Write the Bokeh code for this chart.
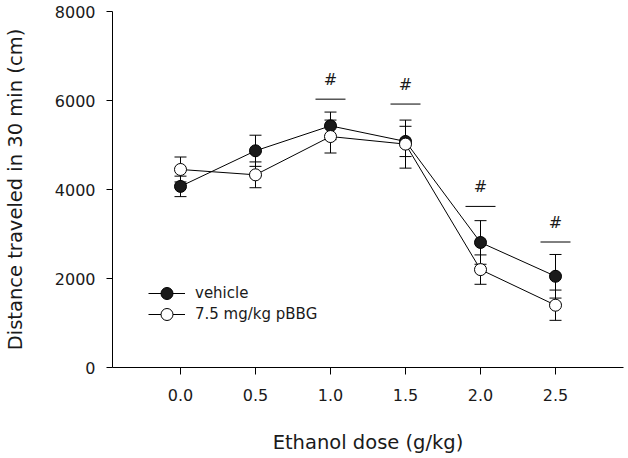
from bokeh.plotting import figure
from bokeh.models import (Whisker, ColumnDataSource, Legend, LegendItem, FixedTicker,
                          NumeralTickFormatter, TeeHead, Range1d)
from bokeh.embed import file_html
from bokeh.resources import INLINE
from bokeh.core.properties import value

# ---- data ----
dose = [0.0, 0.5, 1.0, 1.5, 2.0, 2.5]
vehicle = [4070, 4870, 5430, 5080, 2810, 2050]
vehicle_err = [230, 350, 310, 340, 490, 490]
pbbg = [4450, 4330, 5190, 5020, 2200, 1400]
pbbg_err = [280, 290, 370, 540, 330, 340]
sig_dose = [1.0, 1.5, 2.0, 2.5]
sig_level = [6030, 5920, 3620, 2820]
sig_half_width = 0.1
x_ticks = [0.0, 0.5, 1.0, 1.5, 2.0, 2.5]
y_ticks = [0, 2000, 4000, 6000, 8000]

FONT = "DejaVu Sans"
TXT = "#1a1a1a"

p = figure(width=628, height=458, x_range=Range1d(-0.4533, 2.9533), y_range=Range1d(0, 8000),
           output_backend="svg", toolbar_location=None,
           min_border_left=112, min_border_right=5, min_border_top=11, min_border_bottom=91)
p.outline_line_color = None
p.xgrid.visible = False
p.ygrid.visible = False

for ax in (p.xaxis[0], p.yaxis[0]):
    ax.axis_line_color = "black"
    ax.major_tick_line_color = "black"
    ax.minor_tick_line_color = None
    ax.major_tick_in = 0
    ax.major_label_text_font = FONT
    ax.major_label_text_font_size = "16px"
    ax.major_label_text_color = TXT
    ax.axis_label_text_font = FONT
    ax.axis_label_text_font_size = "19.5px"
    ax.axis_label_text_font_style = "normal"
    ax.axis_label_text_color = TXT

p.xaxis.ticker = FixedTicker(ticks=x_ticks)
p.xaxis.formatter = NumeralTickFormatter(format="0.0")
p.xaxis.major_tick_out = 7
p.xaxis.major_label_standoff = 14
p.xaxis.axis_label = "Ethanol dose (g/kg)"
p.xaxis.axis_label_standoff = 27

p.yaxis.ticker = FixedTicker(ticks=y_ticks)
p.yaxis.major_tick_out = 6
p.yaxis.major_label_standoff = 11
p.yaxis.axis_label = "Distance traveled in 30 min (cm)"
p.yaxis.axis_label_standoff = 25

src_v = ColumnDataSource(dict(x=dose, y=vehicle,
                              lo=[v - e for v, e in zip(vehicle, vehicle_err)],
                              hi=[v + e for v, e in zip(vehicle, vehicle_err)]))
src_p = ColumnDataSource(dict(x=dose, y=pbbg,
                              lo=[v - e for v, e in zip(pbbg, pbbg_err)],
                              hi=[v + e for v, e in zip(pbbg, pbbg_err)]))

for src in (src_v, src_p):
    w = Whisker(base="x", upper="hi", lower="lo", source=src, line_color="black", line_width=1,
                upper_head=TeeHead(size=12, line_color="black", line_width=1),
                lower_head=TeeHead(size=12, line_color="black", line_width=1))
    p.add_layout(w)

lv = p.line("x", "y", source=src_v, line_color="black", line_width=1)
lp = p.line("x", "y", source=src_p, line_color="black", line_width=1)
sv = p.scatter("x", "y", source=src_v, size=12, fill_color="#1a1a1a", line_color="black", line_width=1)
sp = p.scatter("x", "y", source=src_p, size=12, fill_color="white", line_color="black", line_width=1)

# significance marks
p.segment(x0=[d - sig_half_width for d in sig_dose], x1=[d + sig_half_width for d in sig_dose],
          y0=sig_level, y1=sig_level, line_color="black", line_width=1)
p.text(x=sig_dose, y=sig_level, text=["#"] * len(sig_dose), text_align="center",
       text_baseline="alphabetic", y_offset=-20, text_font=value(FONT),
       text_font_size="16px", text_color=TXT)

common = dict(glyph_width=37, glyph_height=30, label_height=30, spacing=0, padding=0, margin=0,
              label_standoff=10, label_text_font=FONT, label_text_font_size="15px",
              label_text_color=TXT, border_line_color=None, background_fill_color=None)
p.add_layout(Legend(items=[LegendItem(label="vehicle", renderers=[lv, sv])],
                    location=(36, 59), **common), "center")
p.add_layout(Legend(items=[LegendItem(label="7.5 mg/kg pBBG", renderers=[lp, sp])],
                    location=(36, 38), **common), "center")

open("out.html", "w").write(file_html(p, INLINE))
